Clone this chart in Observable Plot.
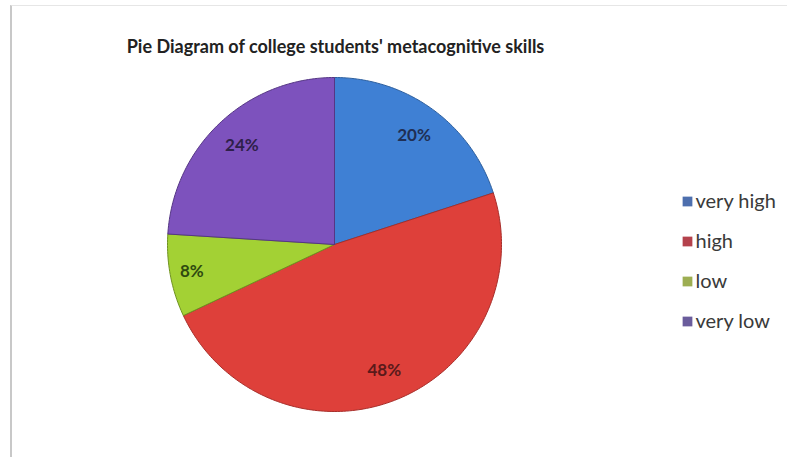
<!DOCTYPE html>
<html>
<head>
<meta charset="utf-8">
<script src="https://cdn.jsdelivr.net/npm/d3@7"></script>
<script src="https://cdn.jsdelivr.net/npm/@observablehq/plot@0.6"></script>
<style>
  html, body { margin: 0; padding: 0; background: #fff; }
  #chart { position: relative; width: 787px; height: 457px; overflow: hidden; }
  #frame { position: absolute; left: 10px; top: 5px; width: 800px; height: 470px; border-left: 2px solid #c8c8c8; border-top: 1px solid #e6e6e6; }
  svg { position: absolute; left: 0; top: 0; }
</style>
</head>
<body>
<div id="chart"><div id="frame"></div></div>
<script>
const title = "Pie Diagram of college students' metacognitive skills";
const categories = ["very high", "high", "low", "very low"];
const values = [20, 48, 8, 24];
const labels = ["20%", "48%", "8%", "24%"];
const sliceColors = ["#3f80d4", "#de403a", "#a3d134", "#7d52bd"];
const edgeColors = ["#2d5f9e", "#a82e2a", "#6f9220", "#553684"];
const labelColors = ["#1f2f55", "#5a1a1a", "#2f4a10", "#2e1f4a"];
const legendColors = ["#4d6fae", "#b4424c", "#9dae52", "#6a5c9c"];

// layout
const W = 787, H = 457;
const cx = 334, cy = 244, R = 167;

const pie = d3.pie().sort(null).value(d => d.value);
const arcs = pie(categories.map((c, i) => ({key: c, value: values[i], i})));

const slicePoints = arcs.map(a => {
  const pts = [{x: cx, y: cy}];
  const n = Math.max(4, Math.ceil((a.endAngle - a.startAngle) / (Math.PI / 180)));
  for (let k = 0; k <= n; k++) {
    const t = a.startAngle + (a.endAngle - a.startAngle) * k / n;
    pts.push({x: cx + R * Math.sin(t), y: cy - R * Math.cos(t)});
  }
  pts.push({x: cx, y: cy});
  return pts;
});

const labelData = arcs.map(a => {
  const m = (a.startAngle + a.endAngle) / 2;
  const rr = R * (a.data.value < 10 ? 0.87 : 0.81);
  return {x: cx + rr * Math.sin(m), y: cy - rr * Math.cos(m), text: labels[a.data.i], i: a.data.i};
});

const legendData = categories.map((c, i) => ({x: 687, y: 201 + i * 40, text: c, i}));

const marks = [];
slicePoints.forEach((pts, i) => {
  marks.push(Plot.line(pts, {x: "x", y: "y", fill: sliceColors[i], stroke: edgeColors[i], strokeWidth: 1, curve: "linear"}));
});
marks.push(Plot.text(labelData, {x: "x", y: "y", text: "text", fill: d => labelColors[d.i], fontSize: 17, fontWeight: "bold", fontFamily: "Lato"}));
marks.push(Plot.dot(legendData, {x: "x", y: "y", symbol: "square", r: 5.5, fill: d => legendColors[d.i], stroke: "none"}));
marks.push(Plot.text(legendData, {x: d => d.x + 8, y: "y", text: "text", textAnchor: "start", fontSize: 20, fill: "#3a3a3a", fontFamily: "Lato"}));
marks.push(Plot.text([title], {x: () => 335, y: () => 47, text: d => d, fontSize: 18, fontWeight: "bold", fill: "#222", fontFamily: "Lato"}));

const chart = Plot.plot({
  width: W, height: H,
  margin: 0,
  x: {domain: [0, W], range: [0, W], axis: null},
  y: {domain: [0, H], range: [0, H], axis: null},
  style: {background: "transparent"},
  marks
});
document.getElementById("chart").appendChild(chart);
</script>
</body>
</html>
